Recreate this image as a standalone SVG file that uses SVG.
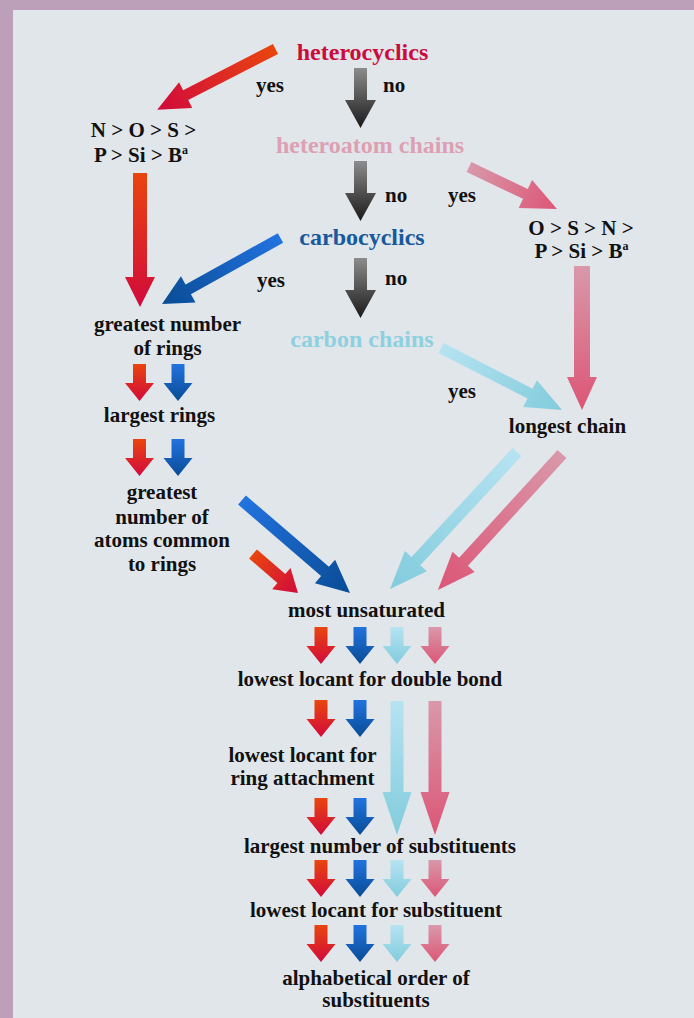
<svg xmlns="http://www.w3.org/2000/svg" xmlns:xlink="http://www.w3.org/1999/xlink" width="694" height="1018" viewBox="0 0 694 1018">
<defs>
<style>
text{font-family:"Liberation Serif","Times New Roman",serif;font-weight:bold}
.t{font-size:21px;fill:#111;text-anchor:middle}
.l{font-size:21px;fill:#111}
.h{font-size:24px;text-anchor:middle}
.sup{font-size:12px}
</style>
<linearGradient id="gRed" x1="0" y1="0" x2="1" y2="0"><stop offset="0" stop-color="#e9450e"/><stop offset="1" stop-color="#d10a3c"/></linearGradient>
<linearGradient id="gBlue" x1="0" y1="0" x2="1" y2="0"><stop offset="0" stop-color="#2273e0"/><stop offset="1" stop-color="#094c95"/></linearGradient>
<linearGradient id="gCyan" x1="0" y1="0" x2="1" y2="0"><stop offset="0" stop-color="#b6e3f2"/><stop offset="1" stop-color="#82ccdc"/></linearGradient>
<linearGradient id="gPink" x1="0" y1="0" x2="1" y2="0"><stop offset="0" stop-color="#d998aa"/><stop offset="1" stop-color="#dc5676"/></linearGradient>
<linearGradient id="gGray" x1="0" y1="0" x2="1" y2="0"><stop offset="0" stop-color="#8c8c8c"/><stop offset="1" stop-color="#1a1a1a"/></linearGradient>
<polygon id="sa" points="0,-6.5 19,-6.5 19,-14.5 37,0 19,14.5 19,6.5 0,6.5"/>
<polygon id="ga" points="0,-6.5 32,-6.5 32,-15.5 60,0 32,15.5 32,6.5 0,6.5"/>
<polygon id="la" points="0,-6.5 91,-6.5 91,-14.5 134,0 91,14.5 91,6.5 0,6.5"/>
</defs>
<rect width="694" height="1018" fill="#bc9fb8"/>
<rect x="13" y="10" width="681" height="1008" fill="#e1e6ea"/>

<g id="connectors">
<polygon transform="translate(275.5,49) rotate(152.8)" points="0,-5.5 101,-5.5 101,-14.5 133,0 101,14.5 101,5.5 0,5.5" fill="url(#gRed)"/>
<use xlink:href="#ga" transform="translate(360.5,68) rotate(90)" fill="url(#gGray)"/>
<use xlink:href="#ga" transform="translate(360.5,161) rotate(90)" fill="url(#gGray)"/>
<use xlink:href="#ga" transform="translate(360.5,258) rotate(90)" fill="url(#gGray)"/>
<polygon transform="translate(140,173) rotate(90)" points="0,-7 104,-7 104,-15 134,0 104,15 104,7 0,7" fill="url(#gRed)"/>
<polygon transform="translate(280.5,238) rotate(150.9)" points="0,-5.5 105.6,-5.5 105.6,-15 135.6,0 105.6,15 105.6,5.5 0,5.5" fill="url(#gBlue)"/>
<polygon transform="translate(469,167) rotate(25.5)" points="0,-5.5 62.5,-5.5 62.5,-15.5 97.5,0 62.5,15.5 62.5,5.5 0,5.5" fill="url(#gPink)"/>
<polygon transform="translate(582,266) rotate(90)" points="0,-8 111,-8 111,-15 144,0 111,15 111,8 0,8" fill="url(#gPink)"/>
<polygon transform="translate(441,348) rotate(27.1)" points="0,-5.5 100,-5.5 100,-15 136,0 100,15 100,5.5 0,5.5" fill="url(#gCyan)"/>
<polygon transform="translate(517,452) rotate(132.8)" points="0,-6 148.8,-6 148.8,-15 186.8,0 148.8,15 148.8,6 0,6" fill="url(#gCyan)"/>
<polygon transform="translate(562,454) rotate(132.4)" points="0,-6 146,-6 146,-15 184,0 146,15 146,6 0,6" fill="url(#gPink)"/>
<polygon transform="translate(242,500) rotate(40.7)" points="0,-6 109.5,-6 109.5,-15.5 142.5,0 109.5,15.5 109.5,6 0,6" fill="url(#gBlue)"/>
<polygon transform="translate(253,554) rotate(40.9)" points="0,-6 37.5,-6 37.5,-14 59.5,0 37.5,14 37.5,6 0,6" fill="url(#gRed)"/>
<use xlink:href="#sa" transform="translate(139.5,364) rotate(90)" fill="url(#gRed)"/>
<use xlink:href="#sa" transform="translate(178,364) rotate(90)" fill="url(#gBlue)"/>
<use xlink:href="#sa" transform="translate(139.5,439) rotate(90)" fill="url(#gRed)"/>
<use xlink:href="#sa" transform="translate(178,439) rotate(90)" fill="url(#gBlue)"/>
<use xlink:href="#sa" transform="translate(321,627) rotate(90)" fill="url(#gRed)"/>
<use xlink:href="#sa" transform="translate(360,627) rotate(90)" fill="url(#gBlue)"/>
<use xlink:href="#sa" transform="translate(397,627) rotate(90)" fill="url(#gCyan)"/>
<use xlink:href="#sa" transform="translate(435,627) rotate(90)" fill="url(#gPink)"/>
<use xlink:href="#sa" transform="translate(321,700) rotate(90)" fill="url(#gRed)"/>
<use xlink:href="#sa" transform="translate(360,700) rotate(90)" fill="url(#gBlue)"/>
<use xlink:href="#la" transform="translate(397,701) rotate(90)" fill="url(#gCyan)"/>
<use xlink:href="#la" transform="translate(435,701) rotate(90)" fill="url(#gPink)"/>
<use xlink:href="#sa" transform="translate(321,798) rotate(90)" fill="url(#gRed)"/>
<use xlink:href="#sa" transform="translate(360,798) rotate(90)" fill="url(#gBlue)"/>
<use xlink:href="#sa" transform="translate(321,860) rotate(90)" fill="url(#gRed)"/>
<use xlink:href="#sa" transform="translate(360,860) rotate(90)" fill="url(#gBlue)"/>
<use xlink:href="#sa" transform="translate(397,860) rotate(90)" fill="url(#gCyan)"/>
<use xlink:href="#sa" transform="translate(435,860) rotate(90)" fill="url(#gPink)"/>
<use xlink:href="#sa" transform="translate(321,925) rotate(90)" fill="url(#gRed)"/>
<use xlink:href="#sa" transform="translate(360,925) rotate(90)" fill="url(#gBlue)"/>
<use xlink:href="#sa" transform="translate(397,925) rotate(90)" fill="url(#gCyan)"/>
<use xlink:href="#sa" transform="translate(435,925) rotate(90)" fill="url(#gPink)"/>
<text class="l" x="256" y="92">yes</text>
<text class="l" x="383" y="92">no</text>
<text class="l" x="385" y="202">no</text>
<text class="l" x="448" y="202">yes</text>
<text class="l" x="257" y="287">yes</text>
<text class="l" x="385" y="285">no</text>
<text class="l" x="448" y="398">yes</text>
</g>

<g id="heterocyclics"><text class="h" x="362.5" y="60" fill="#cc0b3d">heterocyclics</text></g>
<g id="hetero-order"><text class="t" x="143.5" y="137">N &gt; O &gt; S &gt;</text><text class="t" x="141" y="162">P &gt; Si &gt; B<tspan class="sup" dy="-8">a</tspan></text></g>
<g id="heteroatom-chains"><text class="h" x="370" y="153" fill="#dda0b2">heteroatom chains</text></g>
<g id="chain-order"><text class="t" x="581" y="235">O &gt; S &gt; N &gt;</text><text class="t" x="581.5" y="258">P &gt; Si &gt; B<tspan class="sup" dy="-8">a</tspan></text></g>
<g id="carbocyclics"><text class="h" x="362" y="245" fill="#17599b">carbocyclics</text></g>
<g id="carbon-chains"><text class="h" x="362" y="347" fill="#8ed0e0">carbon chains</text></g>
<g id="greatest-rings"><text class="t" x="167.5" y="331">greatest number</text><text class="t" x="167.5" y="355">of rings</text></g>
<g id="largest-rings"><text class="t" x="159.5" y="422">largest rings</text></g>
<g id="atoms-common"><text class="t" x="162" y="499">greatest</text><text class="t" x="162" y="524">number of</text><text class="t" x="162" y="547">atoms common</text><text class="t" x="162" y="571">to rings</text></g>
<g id="longest-chain"><text class="t" x="567.5" y="433">longest chain</text></g>
<g id="most-unsaturated"><text class="t" x="366.5" y="617">most unsaturated</text></g>
<g id="double-bond"><text class="t" x="370" y="686">lowest locant for double bond</text></g>
<g id="ring-attachment"><text class="t" x="302.5" y="762">lowest locant for</text><text class="t" x="302.5" y="785">ring attachment</text></g>
<g id="largest-substituents"><text class="t" x="380" y="853">largest number of substituents</text></g>
<g id="lowest-substituent"><text class="t" x="376" y="917">lowest locant for substituent</text></g>
<g id="alphabetical"><text class="t" x="376" y="985">alphabetical order of</text><text class="t" x="376" y="1007">substituents</text></g>
</svg>
